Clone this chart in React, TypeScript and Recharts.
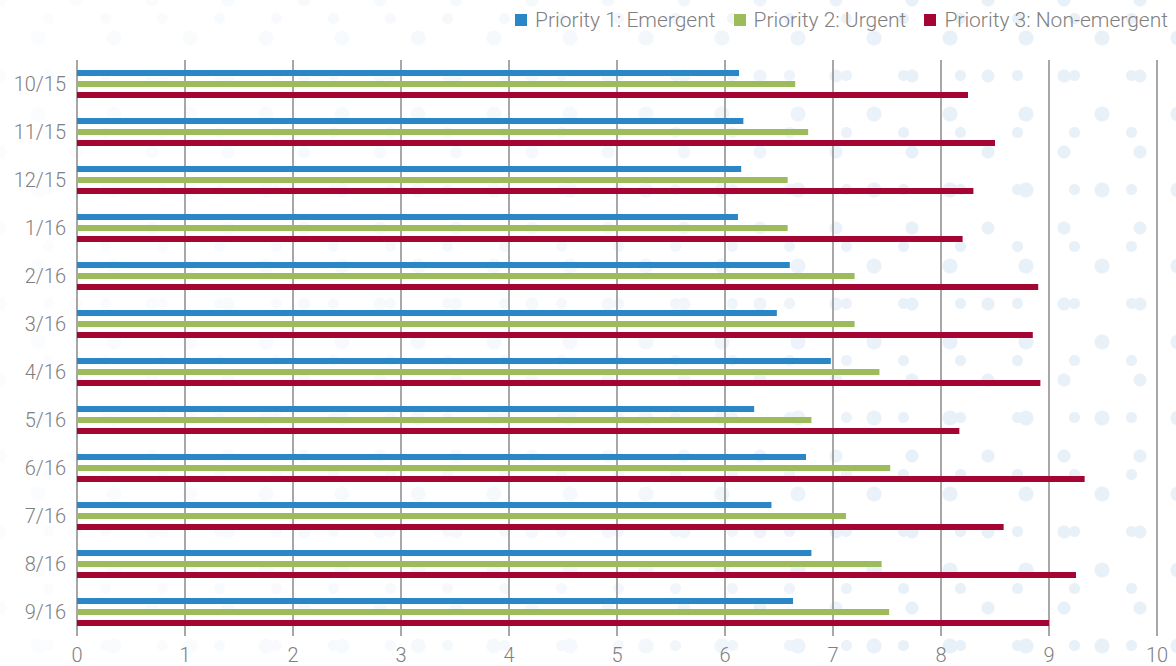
import { Bar, BarChart, CartesianGrid, XAxis, YAxis } from "recharts";

const months = ["10/15", "11/15", "12/15", "1/16", "2/16", "3/16", "4/16", "5/16", "6/16", "7/16", "8/16", "9/16"];
const emergent = [6.13, 6.17, 6.15, 6.12, 6.6, 6.48, 6.98, 6.27, 6.75, 6.43, 6.8, 6.63];
const urgent = [6.65, 6.77, 6.58, 6.58, 7.2, 7.2, 7.43, 6.8, 7.53, 7.12, 7.45, 7.52];
const nonEmergent = [8.25, 8.5, 8.3, 8.2, 8.9, 8.85, 8.92, 8.17, 9.33, 8.58, 9.25, 9.0];
const xTicks = [0, 1, 2, 3, 4, 5, 6, 7, 8, 9, 10];

const data = months.map((m, i) => ({
  month: m,
  p1: emergent[i],
  p2: urgent[i],
  p3: nonEmergent[i],
}));

const BLUE = "#2986c7";
const GREEN = "#9cbb5a";
const RED = "#a50533";
const TEXT = "#808080";
const FONT = "Roboto, 'Liberation Sans', sans-serif";

const series = [
  { key: "p1", name: "Priority 1: Emergent", color: BLUE },
  { key: "p2", name: "Priority 2: Urgent", color: GREEN },
  { key: "p3", name: "Priority 3: Non-emergent", color: RED },
];

export default function App() {
  return (
    <div style={{ position: "absolute", left: 0, top: 0, width: 1176, height: 666, background: "#fff", overflow: "hidden" }}>
      {/* decorative dots behind the chart */}
      <div
        style={{
          position: "absolute",
          inset: 0,
          backgroundImage:
            "radial-gradient(circle, #e8f0f8 7px, transparent 8px), radial-gradient(circle, #e8f0f8 6px, transparent 7px), radial-gradient(circle, #e8f0f8 5px, transparent 6px)",
          backgroundSize: "76px 76px, 76px 76px, 57px 57px",
          backgroundPosition: "0 0, 38px 38px, 20px 47px",
          WebkitMaskImage: "linear-gradient(to right, rgba(0,0,0,0.2), rgba(0,0,0,0.45) 50%, #000 80%)",
          maskImage: "linear-gradient(to right, rgba(0,0,0,0.2), rgba(0,0,0,0.45) 50%, #000 80%)",
        }}
      />
      <div
        style={{
          position: "absolute",
          top: 8,
          right: 8,
          display: "flex",
          gap: 18,
          fontFamily: FONT,
          fontWeight: 300,
          fontSize: 21,
          color: TEXT,
        }}
      >
        {series.map((s) => (
          <div key={s.key} style={{ display: "flex", alignItems: "center" }}>
            <span style={{ width: 12, height: 12, background: s.color, marginRight: 8, display: "inline-block" }} />
            {s.name}
          </div>
        ))}
      </div>
      <div style={{ position: "absolute", left: 0, top: 0 }}>
        <BarChart
          width={1176}
          height={666}
          data={data}
          layout="vertical"
          margin={{ top: 60, right: 19, bottom: 0, left: 7 }}
          barSize={6}
          barGap={5}
        >
          <CartesianGrid horizontal={false} stroke="#8a8a8a" strokeWidth={1.5} />
          <XAxis
            type="number"
            domain={[0, 10]}
            ticks={xTicks}
            axisLine={false}
            tickLine={false}
            height={30}
            tickMargin={6}
            tick={{ fill: TEXT, fontSize: 20, fontFamily: FONT, fontWeight: 300 }}
          />
          <YAxis
            type="category"
            dataKey="month"
            width={70}
            axisLine={false}
            tickLine={false}
            tickMargin={5}
            tick={{ fill: TEXT, fontSize: 20, fontFamily: FONT, fontWeight: 300 }}
          />
          {series.map((s) => (
            <Bar key={s.key} dataKey={s.key} name={s.name} fill={s.color} isAnimationActive={false} />
          ))}
        </BarChart>
      </div>
    </div>
  );
}
